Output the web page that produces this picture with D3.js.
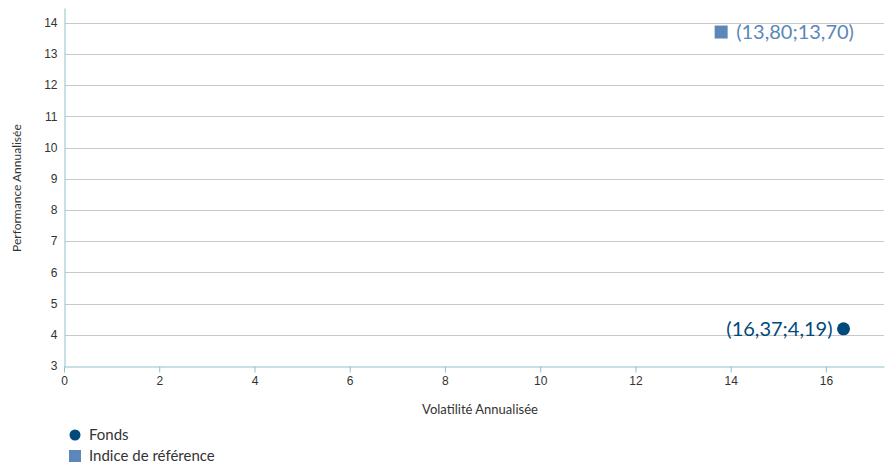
<!DOCTYPE html>
<html lang="fr">
<head>
<meta charset="UTF-8">
<title>Risque / Performance</title>
<style>
    body { margin: 0; background: #fff; font-family: Lato, "Open Sans", sans-serif; }
    .grid line { stroke: #c8c8c8; stroke-width: 1px; }
    .axis text { fill: #333; font-size: 12px; }
</style>
</head>
<body>
<div id="chart"></div>
<script src="https://cdnjs.cloudflare.com/ajax/libs/d3/7.8.5/d3.min.js"></script>
<script>
    const seriesNames = ["Fonds", "Indice de référence"];
    const volatilite = [16.37, 13.80];
    const performance = [4.19, 13.70];
    const pointLabels = ["(16,37;4,19)", "(13,80;13,70)"];
    const xTicks = [0, 2, 4, 6, 8, 10, 12, 14, 16];
    const yTicks = [3, 4, 5, 6, 7, 8, 9, 10, 11, 12, 13, 14];
    const colors = ["#004a7c", "#5b88b8"];

    const width = 885, height = 468;
    const margin = { top: 8, right: 1, bottom: 102, left: 64 };

    const svg = d3.select("#chart").append("svg")
        .attr("width", width)
        .attr("height", height);

    const x = d3.scaleLinear().domain([0, 17.22]).range([margin.left, width - margin.right]);
    const y = d3.scaleLinear().domain([3, 14.47]).range([height - margin.bottom, margin.top]);

    // grille horizontale
    svg.append("g").attr("class", "grid")
        .selectAll("line")
        .data(yTicks.filter(d => d > 3))
        .enter().append("line")
        .attr("x1", margin.left + 1).attr("x2", width - margin.right)
        .attr("y1", d => Math.round(y(d)) + 0.5).attr("y2", d => Math.round(y(d)) + 0.5);

    // axe Y
    const yAxis = svg.append("g").attr("class", "axis")
        .attr("transform", "translate(" + (margin.left + 0.5) + ",0)")
        .call(d3.axisLeft(y).tickValues(yTicks).tickSize(0).tickPadding(7));
    yAxis.select(".domain").attr("stroke", "#8fc1c7");

    // axe X
    const xAxis = svg.append("g").attr("class", "axis")
        .attr("transform", "translate(0," + (Math.round(y(3)) + 0.5) + ")")
        .call(d3.axisBottom(x).tickValues(xTicks).tickSize(6).tickSizeOuter(0).tickPadding(4));
    xAxis.select(".domain").attr("stroke", "#8fc1c7");
    xAxis.selectAll(".tick line").attr("stroke", "#8fc1c7");

    // titres
    svg.append("text")
        .attr("x", 480).attr("y", 414)
        .attr("text-anchor", "middle")
        .attr("font-size", 13).attr("fill", "#333")
        .text("Volatilité Annualisée");

    svg.append("text")
        .attr("transform", "translate(21," + (y(8.7)) + ") rotate(-90)")
        .attr("text-anchor", "middle")
        .attr("font-size", 12).attr("fill", "#333")
        .text("Performance Annualisée");

    // points
    svg.append("circle")
        .attr("cx", x(volatilite[0])).attr("cy", y(performance[0]))
        .attr("r", 6.5).attr("fill", colors[0]);

    svg.append("rect")
        .attr("x", x(volatilite[1]) - 6.5).attr("y", y(performance[1]) - 6.5)
        .attr("width", 13).attr("height", 13).attr("fill", colors[1]);

    svg.append("text")
        .attr("x", x(volatilite[0]) - 11).attr("y", y(performance[0]) + 7)
        .attr("text-anchor", "end")
        .attr("font-size", 20).attr("fill", colors[0])
        .text(pointLabels[0]);

    svg.append("text")
        .attr("x", x(volatilite[1]) + 15).attr("y", y(performance[1]) + 7)
        .attr("text-anchor", "start")
        .attr("font-size", 20).attr("fill", colors[1])
        .text(pointLabels[1]);

    // légende
    const legend = svg.append("g").attr("transform", "translate(69,428)");
    seriesNames.forEach((name, i) => {
        const g = legend.append("g").attr("transform", "translate(0," + (i * 21) + ")");
        if (i === 0) {
            g.append("circle").attr("cx", 6).attr("cy", 7).attr("r", 5.5).attr("fill", colors[i]);
        } else {
            g.append("rect").attr("x", 0).attr("y", 1).attr("width", 12).attr("height", 12).attr("fill", colors[i]);
        }
        g.append("text").attr("x", 20).attr("y", 12)
            .attr("font-size", 15).attr("fill", "#333")
            .text(name);
    });
</script>
</body>
</html>
